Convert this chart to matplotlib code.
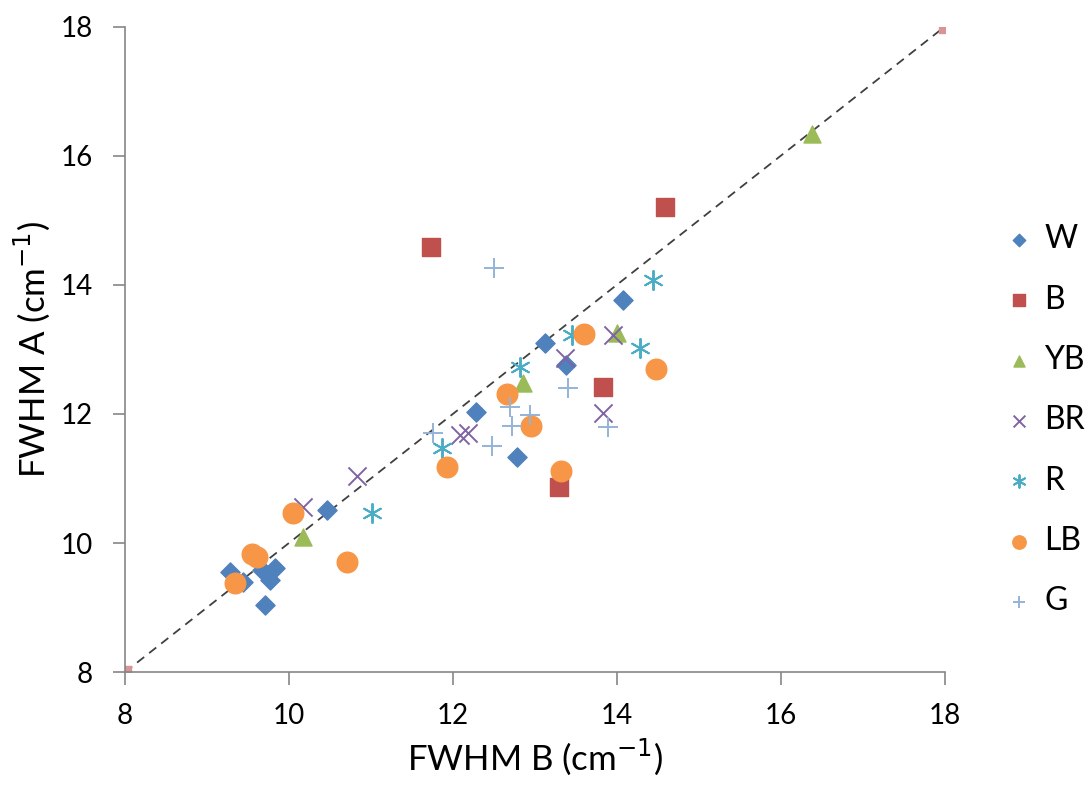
import matplotlib.pyplot as plt

plt.rcParams['font.family'] = ['Lato', 'DejaVu Sans']

# FWHM values (cm-1): x = FWHM B, y = FWHM A
w_x = [9.28, 9.44, 9.67, 9.83, 9.77, 9.71, 10.46, 12.28, 13.12, 13.38, 12.78, 14.07]
w_y = [9.55, 9.40, 9.58, 9.61, 9.43, 9.04, 10.51, 12.03, 13.10, 12.76, 11.33, 13.77]

b_x = [11.73, 14.59, 13.83, 13.29]
b_y = [14.59, 15.21, 12.42, 10.87]

yb_x = [10.17, 12.85, 14.00, 16.38]
yb_y = [10.09, 12.48, 13.26, 16.34]

br_x = [10.17, 10.83, 12.09, 12.18, 13.37, 13.95, 13.83]
br_y = [10.56, 11.04, 11.67, 11.70, 12.87, 13.22, 12.02]

r_x = [11.01, 11.87, 12.82, 13.45, 14.28, 14.44]
r_y = [10.47, 11.47, 12.73, 13.22, 13.02, 14.08]

lb_x = [10.05, 9.55, 9.61, 9.34, 10.71, 12.66, 11.93, 12.95, 13.32, 13.60, 14.48]
lb_y = [10.47, 9.83, 9.79, 9.38, 9.71, 12.31, 11.18, 11.81, 11.12, 13.24, 12.70]

g_x = [12.50, 11.76, 12.70, 12.94, 12.72, 12.48, 13.40, 13.89]
g_y = [14.26, 11.70, 12.11, 11.98, 11.81, 11.50, 12.40, 11.80]

# 1:1 reference line
line_x = [8, 18]
line_y = [8, 18]

fig = plt.figure(figsize=(10.87, 7.87), dpi=100)
ax = fig.add_axes([0.115, 0.146, 0.754, 0.820])

ax.plot(line_x, line_y, ls=(0, (5, 3.5)), color='#404040', lw=1.3, zorder=1)
# end points of the line (pale squares, half clipped by the axes)
ax.scatter(line_x, line_y, marker='s', s=70, color='#D99594', zorder=1, clip_on=True)

ax.scatter(w_x, w_y, marker='D', s=95, color='#4F81BD', label='W', zorder=3)
ax.scatter(b_x, b_y, marker='s', s=165, color='#C0504D', label='B', zorder=3)
ax.scatter(yb_x, yb_y, marker='^', s=150, color='#9BBB59', label='YB', zorder=3)
ax.scatter(br_x, br_y, marker='x', s=170, color='#8064A2', lw=1.4, label='BR', zorder=3)
ax.scatter(r_x, r_y, marker=(6, 2, 0), s=190, color='#4BACC6', lw=1.4, label='R', zorder=3)
ax.scatter(lb_x, lb_y, marker='o', s=220, color='#F79646', label='LB', zorder=3)
ax.scatter(g_x, g_y, marker='+', s=190, color='#95B3D7', lw=1.4, label='G', zorder=3)

ax.set_xlim(8, 18)
ax.set_ylim(8, 18)
ax.set_xticks([8, 10, 12, 14, 16, 18])
ax.set_yticks([8, 10, 12, 14, 16, 18])
ax.tick_params(labelsize=20, length=9, width=1.2, color='#868686')
ax.tick_params(axis='x', pad=13)
ax.tick_params(axis='y', pad=14)

for side in ['top', 'right']:
    ax.spines[side].set_visible(False)
for side in ['left', 'bottom']:
    ax.spines[side].set_color('#868686')
    ax.spines[side].set_linewidth(1.2)

ax.set_xlabel('FWHM B (cm$^{-1}$)', fontsize=25, labelpad=6)
ax.set_ylabel('FWHM A (cm$^{-1}$)', fontsize=25, labelpad=6)

ax.legend(loc='center left', bbox_to_anchor=(0.893, 0.466), bbox_transform=fig.transFigure,
          frameon=False, fontsize=23, labelspacing=0.95, handletextpad=0.2,
          handlelength=1.2, markerscale=0.65)

fig.savefig('out.png', dpi=100)
